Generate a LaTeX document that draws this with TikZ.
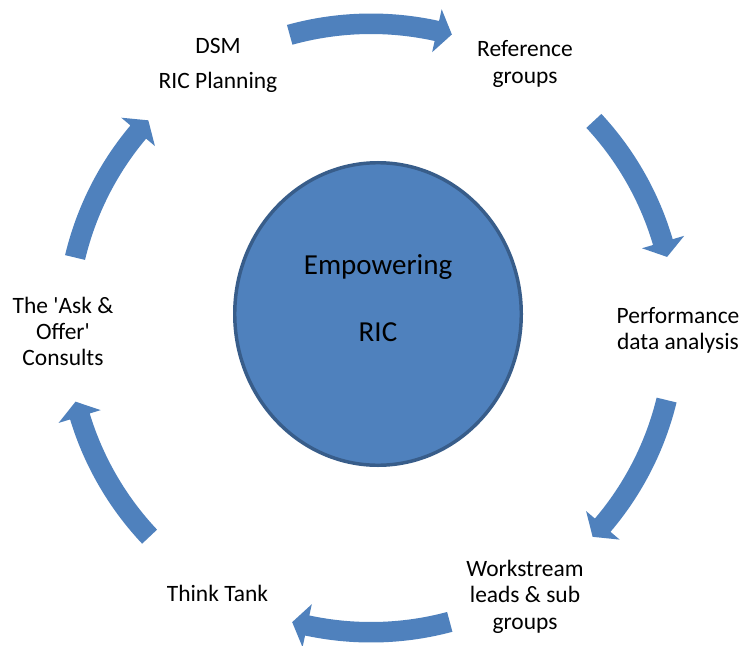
\documentclass[tikz,border=0pt]{standalone}
\usepackage{fontspec}
\setmainfont{Carlito}
\usetikzlibrary{shapes.geometric}
\definecolor{cycblue}{RGB}{79,129,189}
\definecolor{hubedge}{RGB}{56,93,138}
\newcommand\lblines[1]{\begin{tabular}[t]{@{}c@{}}#1\end{tabular}}
\newcommand\cycarrow[2]{%
  \pgfmathsetmacro\cycb{#2+2.9}%
  \fill[cyclearrow] (#1:314.5) arc[start angle=#1, end angle=\cycb, radius=314.5]
    -- (\cycb:326.5) -- (#2:304.5) -- (\cycb:282.5) -- (\cycb:294)
    arc[start angle=\cycb, end angle=#1, radius=294] -- cycle;}
\begin{document}
\begin{tikzpicture}[x=0.75pt,y=-0.75pt,
  lbl/.style={font=\fontsize{17.6}{19.7}\selectfont, inner sep=0pt, anchor=base},
  hubtext/.style={font=\fontsize{21.75}{26}\selectfont, inner sep=0pt, anchor=base},
  cyclearrow/.style={fill=cycblue, draw=none},
  hubshape/.style={ellipse, fill=cycblue, draw=hubedge, line width=2.6pt,
    minimum width=214.9pt, minimum height=226.9pt, inner sep=0pt}]
\useasboundingbox (0,0) rectangle (748,645);
\fill[white] (0,0) rectangle (748,645);
\begin{scope}[shift={(371,328)}, yscale=-1]
  \cycarrow{105.5}{74.6}
  \cycarrow{42.9}{13.5}
  \cycarrow{-13.7}{-43.3}
  \cycarrow{-75}{-105}
  \cycarrow{-136.7}{-166}
  \cycarrow{166.6}{137}
\end{scope}
\node[hubshape] (hub) at (378,314) {};
\node[hubtext] (hubtext) at (378,274) {\lblines{Empowering\\[24.8pt]RIC}};
\node[lbl] (dsm) at (218,54) {\lblines{DSM\\[6.5pt]RIC Planning}};
\node[lbl] (ref) at (525,57) {\lblines{Reference\\groups}};
\node[lbl] (perf) at (678,323.5) {\lblines{Performance\\data analysis}};
\node[lbl] (work) at (525,576.5) {\lblines{Workstream\\leads \& sub\\groups}};
\node[lbl] (think) at (217.5,601.7) {Think Tank};
\node[lbl] (ask) at (63,313.3) {\lblines{The \textquotesingle Ask \&\\Offer\textquotesingle\\Consults}};
\end{tikzpicture}
\end{document}
